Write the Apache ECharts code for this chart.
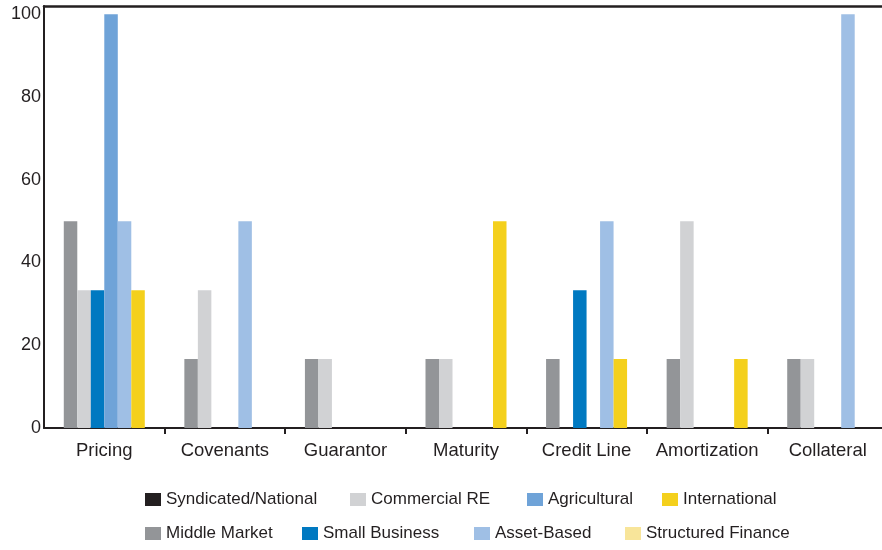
<!DOCTYPE html>
<html>
<head>
<meta charset="utf-8">
<script src="https://cdn.jsdelivr.net/npm/echarts@6/dist/echarts.min.js"></script>
<style>
  html, body { margin: 0; padding: 0; background: #fff; }
  #chart { width: 882px; height: 550px; }
</style>
</head>
<body>
<div id="chart"></div>
<script>
// Loan term categories
const categories = ['Pricing', 'Covenants', 'Guarantor', 'Maturity', 'Credit Line', 'Amortization', 'Collateral'];

// Percent of respondents per lending segment, in bar order within each group
const syndicatedNational = [0, 0, 0, 0, 0, 0, 0];
const middleMarket       = [50, 16.7, 16.7, 16.7, 16.7, 16.7, 16.7];
const commercialRE       = [33.3, 33.3, 16.7, 16.7, 0, 50, 16.7];
const smallBusiness      = [33.3, 0, 0, 0, 33.3, 0, 0];
const agricultural       = [100, 0, 0, 0, 0, 0, 0];
const assetBased         = [50, 50, 0, 0, 50, 0, 100];
const international      = [33.3, 0, 0, 50, 16.7, 16.7, 0];
const structuredFinance  = [0, 0, 0, 0, 0, 0, 0];

const yTicks = [0, 20, 40, 60, 80, 100];

const seriesDefs = [
  { name: 'Syndicated/National', data: syndicatedNational, color: '#231f20' },
  { name: 'Middle Market',       data: middleMarket,       color: '#939598' },
  { name: 'Commercial RE',       data: commercialRE,       color: '#d1d2d4' },
  { name: 'Small Business',      data: smallBusiness,      color: '#0079c1' },
  { name: 'Agricultural',        data: agricultural,       color: '#6fa3d8' },
  { name: 'Asset-Based',         data: assetBased,         color: '#9fbfe5' },
  { name: 'International',       data: international,      color: '#f4d01c' },
  { name: 'Structured Finance',  data: structuredFinance,  color: '#f8e59a' }
];

// Legend placement: two rows, filled column by column
const legendSpots = {
  'Syndicated/National': [145, 491],
  'Commercial RE':       [350, 491],
  'Agricultural':        [527, 491],
  'International':       [662, 491],
  'Middle Market':       [145, 525],
  'Small Business':      [302, 525],
  'Asset-Based':         [474, 525],
  'Structured Finance':  [625, 525]
};

const textColor = '#231f20';
const font = 'Liberation Sans, Arial, sans-serif';

const chart = echarts.init(document.getElementById('chart'));
chart.setOption({
  animation: false,
  backgroundColor: '#fff',
  grid: { left: 44, width: 844, top: 6, bottom: 122, containLabel: false, outerBoundsMode: 'none' },
  legend: seriesDefs.map(s => ({
    data: [s.name],
    left: legendSpots[s.name][0],
    top: legendSpots[s.name][1],
    padding: 0,
    itemWidth: 16,
    itemHeight: 13,
    itemGap: 0,
    icon: 'rect',
    selectedMode: false,
    textStyle: { fontSize: 17, color: textColor, fontFamily: font, padding: [0, 0, 0, 0] }
  })),
  xAxis: [
    {
      type: 'category',
      data: categories,
      position: 'bottom',
      axisLine: { lineStyle: { color: textColor, width: 2 } },
      // separator ticks between groups only, none at the left corner
      axisTick: { show: true, interval: i => i > 0, length: 6, lineStyle: { color: textColor, width: 2 } },
      axisLabel: { interval: 0, hideOverlap: false, fontSize: 18.5, color: textColor, fontFamily: font, margin: 13 },
      splitLine: { show: false }
    },
    {
      type: 'category',
      data: categories,
      position: 'top',
      axisLine: { lineStyle: { color: textColor, width: 2.5 } },
      axisTick: { show: false },
      axisLabel: { show: false },
      splitLine: { show: false }
    }
  ],
  yAxis: {
    type: 'value',
    min: 0,
    max: 102,
    interval: 20,
    axisLine: { show: true, lineStyle: { color: textColor, width: 2 } },
    axisTick: { show: false },
    splitLine: { show: false },
    axisLabel: {
      fontSize: 18,
      color: textColor,
      fontFamily: font,
      margin: 3,
      formatter: v => (yTicks.indexOf(v) >= 0 ? String(v) : '')
    }
  },
  series: seriesDefs.map(s => ({
    name: s.name,
    type: 'bar',
    xAxisIndex: 0,
    data: s.data,
    barWidth: 13.5,
    barGap: '0%',
    itemStyle: { color: s.color },
    emphasis: { disabled: true }
  }))
});
</script>
</body>
</html>
